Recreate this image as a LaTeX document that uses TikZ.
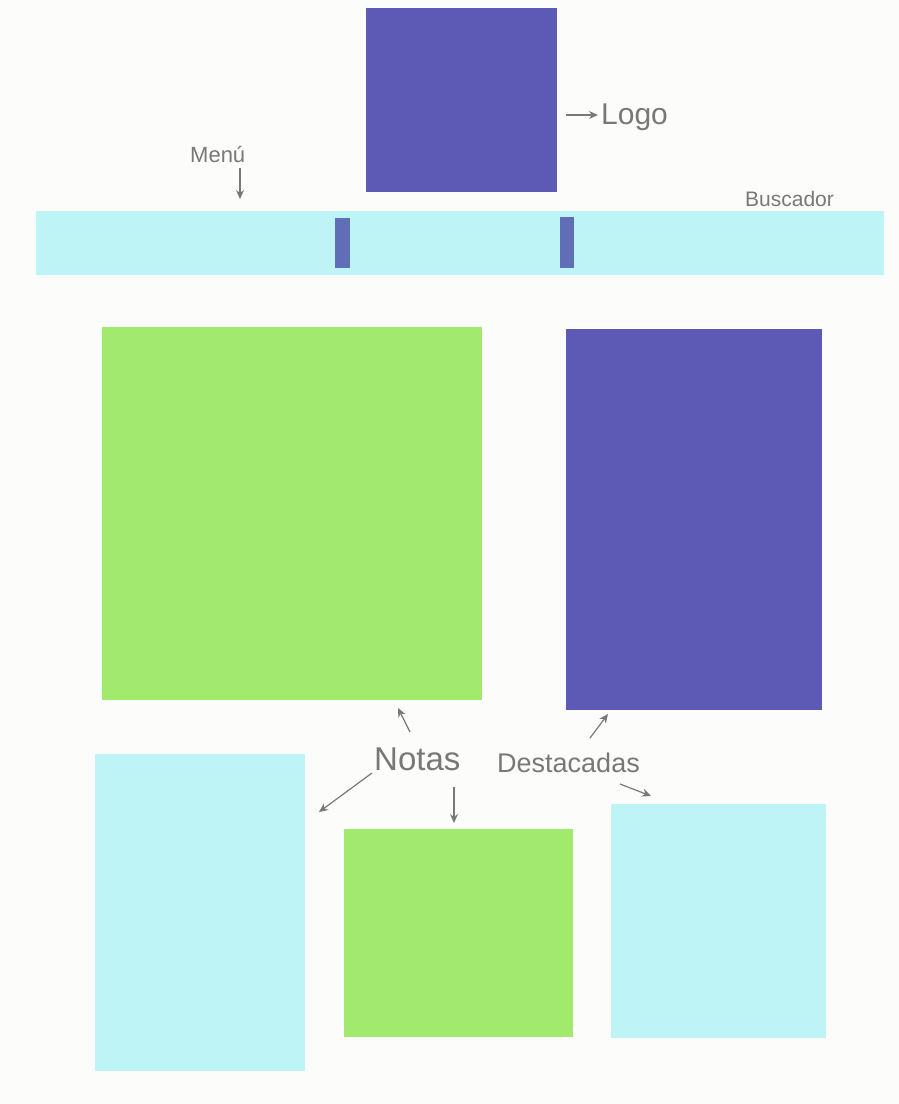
\documentclass[tikz,border=0pt]{standalone}
\usepackage{fontspec}
\setmainfont{Liberation Sans}
\usetikzlibrary{arrows.meta}
\definecolor{paper}{RGB}{252,252,251}
\definecolor{violet}{RGB}{92,90,180}
\definecolor{skyc}{RGB}{191,244,246}
\definecolor{leaf}{RGB}{162,234,110}
\definecolor{mark}{RGB}{96,110,184}
\definecolor{pencil}{RGB}{120,120,120}
\tikzset{
  card/.style={draw=none, inner sep=0pt, outer sep=0pt, anchor=north west},
  hand/.style={text=pencil, inner sep=0pt, anchor=base west},
  pointer/.style={draw=pencil, line width=1.2pt, -{Stealth[length=9pt,width=8pt]}},
}
\newcommand{\fs}[1]{\fontsize{#1}{#1}\selectfont}
\begin{document}
\begin{tikzpicture}[x=1pt,y=-1pt]
\fill[paper] (0,0) rectangle (899,1104);
\useasboundingbox (0,0) rectangle (899,1104);
% cards
\node[card, fill=violet, minimum width=191pt, minimum height=184pt] (logo) at (366,8) {};
\node[card, fill=skyc, minimum width=848pt, minimum height=64pt] (bar) at (36,211) {};
\node[card, fill=mark, minimum width=15pt, minimum height=50pt] (m1) at (335,218) {};
\node[card, fill=mark, minimum width=14pt, minimum height=51pt] (m2) at (560,217) {};
\node[card, fill=leaf, minimum width=380pt, minimum height=373pt] (bigg) at (102,327) {};
\node[card, fill=violet, minimum width=256pt, minimum height=381pt] (bigv) at (566,329) {};
\node[card, fill=skyc, minimum width=210pt, minimum height=317pt] (c1) at (95,754) {};
\node[card, fill=leaf, minimum width=229pt, minimum height=208pt] (g2) at (344,829) {};
\node[card, fill=skyc, minimum width=215pt, minimum height=234pt] (c2) at (611,804) {};
% labels
\node[hand, font=\fs{30}] (logot) at (601,124) {Logo};
\node[hand, font=\fs{22}] (menu) at (190,162) {Menú};
\node[hand, font=\fs{21}] (busc) at (745,206) {Buscador};
\node[hand, font=\fs{33}] (notas) at (374,770) {Notas};
\node[hand, font=\fs{27}] (dest) at (497,772) {Destacadas};
% arrows
\coordinate (la) at (566,115);
\coordinate (lb) at (598,115);
\draw[pointer] (la) -- (lb);
\coordinate (ma) at (240,168);
\coordinate (mb) at (240,199);
\draw[pointer] (ma) -- (mb);
\coordinate (n1a) at (410,732);
\coordinate (n1b) at (398,708);
\draw[pointer] (n1a) -- (n1b);
\coordinate (n2a) at (372,773);
\coordinate (n2b) at (319,812);
\draw[pointer] (n2a) -- (n2b);
\coordinate (n3a) at (454,787);
\coordinate (n3b) at (454,823);
\draw[pointer] (n3a) -- (n3b);
\coordinate (d1a) at (590,738);
\coordinate (d1b) at (608,714);
\draw[pointer] (d1a) -- (d1b);
\coordinate (d2a) at (620,784);
\coordinate (d2b) at (651,796);
\draw[pointer] (d2a) -- (d2b);
\end{tikzpicture}
\end{document}
